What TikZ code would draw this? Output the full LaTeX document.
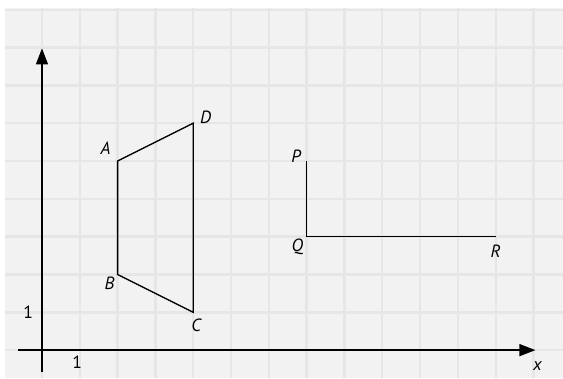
\documentclass[tikz,border=0pt]{standalone}
\usepackage{fontspec}
\setmainfont{PT Sans}
\usepackage{tikz}
\usetikzlibrary{arrows.meta,positioning}
\definecolor{paperbg}{RGB}{242,242,242}
\definecolor{paperline}{RGB}{230,230,230}
\tikzset{
  axis/.style={line width=1.1pt,-{Triangle[length=12pt,width=9pt]}},
  figline/.style={line width=1pt,line join=miter},
  ptlabel/.style={font=\fontsize{13.3}{16}\selectfont\itshape,inner sep=0pt},
  numlabel/.style={font=\fontsize{13.3}{16}\selectfont,inner sep=0pt},
}

\begin{document}
\begin{tikzpicture}
    \useasboundingbox (-1.11,-0.74) rectangle (13.78,9.26);
    % squared paper
    \fill[paperbg] (-0.98,-0.74) rectangle (13.78,9.05);
    \foreach \x in {0,...,13} {
      \draw[paperline,line width=1.8pt] (\x,-0.74) -- (\x,9.05);
    }
    \foreach \y in {0,...,9} {
      \draw[paperline,line width=1.8pt] (-0.98,\y) -- (13.78,\y);
    }
    % axes
    \coordinate (xstart) at (-0.63,0);
    \coordinate (xend) at (13.05,0);
    \coordinate (ystart) at (0,-0.58);
    \coordinate (yend) at (0,7.98);
    \draw[axis] (xstart) -- (xend);
    \draw[axis] (ystart) -- (yend);
    \node[ptlabel,xshift=1.5pt,yshift=-12pt] (xlab) at (xend) {x};
    \coordinate (xone) at (1,0);
    \coordinate (yone) at (0,1);
    \node[numlabel,xshift=-2pt,yshift=-8.8pt] (xonelab) at (xone) {1};
    \node[numlabel,xshift=-10.3pt] (yonelab) at (yone) {1};
    % trapezium ABCD
    \coordinate (A) at (2,5);
    \coordinate (B) at (2,2);
    \coordinate (C) at (4,1);
    \coordinate (D) at (4,6);
    \draw[figline] (A) -- (D) -- (C) -- (B) -- cycle;
    \node[ptlabel,xshift=-9pt,yshift=9.8pt] (labA) at (A) {A};
    \node[ptlabel,xshift=-6pt,yshift=-6.7pt] (labB) at (B) {B};
    \node[ptlabel,xshift=2.3pt,yshift=-10pt] (labC) at (C) {C};
    \node[ptlabel,xshift=9.3pt,yshift=4.5pt] (labD) at (D) {D};
    % right angle PQR
    \coordinate (P) at (7,5);
    \coordinate (Q) at (7,3);
    \coordinate (R) at (12,3);
    \draw[figline] (P) -- (Q) -- (R);
    \node[ptlabel,xshift=-8pt,yshift=4pt] (labP) at (P) {P};
    \node[ptlabel,xshift=-7pt,yshift=-8pt] (labQ) at (Q) {Q};
    \node[ptlabel,yshift=-11pt] (labR) at (R) {R};
\end{tikzpicture}
\end{document}
